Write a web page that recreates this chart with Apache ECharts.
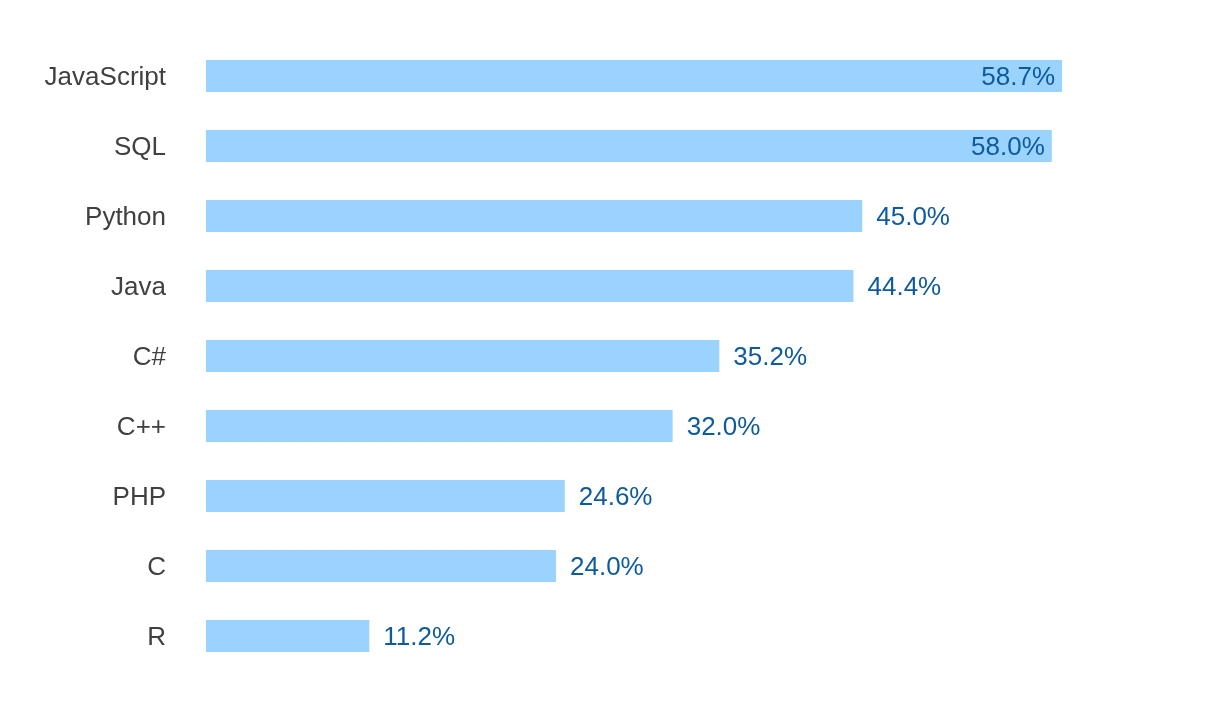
<!DOCTYPE html>
<html>
<head>
<meta charset="utf-8">
<script src="https://cdn.jsdelivr.net/npm/echarts@6/dist/echarts.min.js"></script>
<style>html,body{margin:0;padding:0;background:#fff;}#chart{width:1214px;height:713px;}</style>
</head>
<body>
<div id="chart"></div>
<script>
const categories = ["JavaScript", "SQL", "Python", "Java", "C#", "C++", "PHP", "C", "R"];
const values = [58.7, 58.0, 45.0, 44.4, 35.2, 32.0, 24.6, 24.0, 11.2];
const insideCount = 2;

const FONT = "'Liberation Sans', Arial, Helvetica, sans-serif";
const chart = echarts.init(document.getElementById('chart'));
const data = values.map((v, i) => ({
  value: v,
  label: i < insideCount ? { position: 'insideRight', distance: 7 } : { position: 'right', distance: 14 }
}));
chart.setOption({
  animation: false,
  grid: { left: 206, top: 41, bottom: 42, width: 875, containLabel: false },
  xAxis: { type: 'value', min: 0, max: 60, show: false },
  yAxis: {
    type: 'category', data: categories, inverse: true,
    axisLine: { show: false }, axisTick: { show: false },
    axisLabel: {
      color: '#404040', fontSize: 26, fontFamily: FONT, margin: 40,
      formatter: v => '{a|' + v + '}',
      rich: { a: { color: '#404040', fontSize: 26, fontFamily: FONT, padding: [4, 0, 0, 0] } }
    }
  },
  series: [{
    type: 'bar', data: data, barWidth: 32,
    itemStyle: { color: '#99d3fe' },
    label: {
      show: true, color: '#0d5a9e', fontSize: 26, fontFamily: FONT, offset: [0, 2],
      formatter: p => p.value.toFixed(1) + '%'
    }
  }]
});
</script>
</body>
</html>
